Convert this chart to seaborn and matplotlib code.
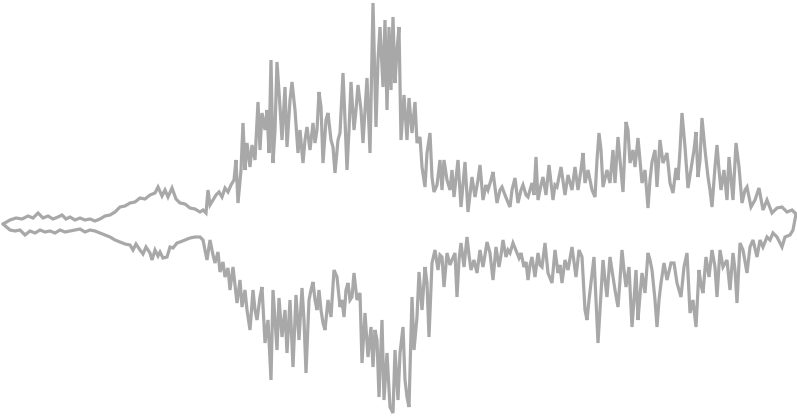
import matplotlib
matplotlib.use("Agg")
import matplotlib.pyplot as plt
import seaborn as sns
import pandas as pd

# Upper envelope: sample positions and values (value axis points downward)
top_x = [3,10,16,22,28,33,38,43,48,53,58,62,66,70,75,80,85,90,95,100,105,110,115,120,125,130,135,140,145,150,155,158,162,165,168,172,176,180,185,190,195,200,203,206,208,210,213,216,219,222,225,228,231,234,236,238,241,243,245,247,250,252,255,258,260,262,265,267,269,271,273,275,277,280,282,285,287,290,292,295,298,300,303,305,307,310,313,315,317,319,321,323,326,328,331,333,335,338,340,343,345,347,349,351,354,356,358,361,363,365,367,370,373,376,378,380,383,385,387,389,391,393,395,397,399,401,404,407,409,412,415,417,420,422,425,427,430,432,434,437,440,442,444,447,450,452,454,458,461,465,468,472,475,478,480,483,486,488,491,493,497,500,502,505,507,510,512,515,518,521,523,526,528,532,534,536,538,541,543,546,549,553,555,557,561,565,568,572,575,578,581,583,585,588,592,595,597,599,601,603,607,610,613,615,618,620,623,626,628,630,633,635,638,642,645,648,650,652,655,657,660,663,667,670,673,676,678,680,682,685,688,692,694,696,698,700,702,705,708,710,712,715,717,719,721,724,727,729,733,736,739,742,745,747,751,755,759,763,767,772,777,782,787,792,796]
top_y = [224,220,218,219,216,218,213,218,216,219,217,215,219,217,220,218,220,219,221,219,216,215,212,207,206,203,202,198,199,195,193,187,196,190,197,188,199,203,204,208,209,212,210,213,190,205,200,195,192,197,188,192,185,180,160,203,170,123,170,143,167,145,160,102,150,113,130,110,153,60,163,130,62,107,140,87,147,100,82,110,153,130,163,140,127,150,123,143,130,92,107,163,120,113,140,147,173,140,133,73,120,170,130,82,130,110,85,110,143,110,78,153,3,127,60,27,87,20,110,27,90,17,83,50,27,140,95,140,98,133,102,143,137,167,187,153,133,177,192,185,160,190,160,180,190,170,197,160,207,162,212,177,197,180,165,200,185,190,180,172,203,190,187,195,200,207,190,178,203,190,185,195,197,183,195,157,200,185,177,195,165,200,185,187,167,195,175,190,167,190,170,153,183,170,190,197,160,133,150,187,170,183,150,183,137,160,192,122,130,163,150,167,138,183,170,208,180,162,150,187,140,163,153,183,193,168,180,150,113,147,188,163,150,132,177,160,118,150,177,190,207,167,145,170,190,170,200,157,200,143,167,203,190,187,207,200,188,210,200,213,208,207,212,210,214]

# Lower envelope
bot_x = [3,10,15,20,25,30,35,40,45,50,55,60,65,70,75,80,85,90,95,100,105,110,115,120,125,130,133,136,140,143,146,150,152,155,158,160,163,167,170,173,177,180,185,190,195,200,203,207,210,213,215,218,220,223,225,228,230,233,235,237,240,242,245,247,250,253,255,257,260,262,265,268,271,273,275,277,279,282,285,287,290,293,296,299,302,304,306,309,311,313,315,317,319,321,323,325,328,331,334,337,340,342,344,346,348,350,352,354,357,360,362,365,368,371,373,375,377,379,382,384,387,390,393,395,398,400,403,405,407,409,412,414,417,419,422,425,427,429,432,435,438,440,442,444,447,450,452,455,457,459,461,464,467,469,471,474,477,480,483,485,487,490,493,496,499,501,503,506,508,510,513,517,519,521,524,526,528,530,532,535,538,540,542,545,548,552,555,558,560,562,565,568,572,576,579,582,585,587,589,591,594,596,598,600,603,605,607,610,613,615,618,620,622,624,626,629,632,634,636,638,640,642,645,648,650,652,655,657,659,661,664,667,671,674,677,679,681,684,687,690,693,696,699,701,703,706,709,712,715,717,720,723,727,730,733,735,737,740,743,747,750,753,757,760,763,767,770,773,777,780,782,785,790,793,796]
bot_y = [224,230,231,230,235,231,233,230,232,231,233,230,232,231,230,229,232,230,231,233,235,237,240,242,244,245,250,244,250,254,247,253,260,250,256,252,258,257,247,248,243,242,240,238,237,237,240,260,240,255,263,252,272,262,277,268,290,267,285,303,280,307,290,310,330,290,310,320,297,287,343,320,380,290,320,350,298,337,310,353,300,367,295,340,288,320,373,300,290,282,300,310,290,310,323,330,300,317,270,277,307,300,317,290,283,300,297,273,300,293,363,313,357,327,367,330,340,397,320,400,353,407,413,350,400,353,327,380,397,407,297,350,317,272,310,267,283,337,263,250,270,255,257,287,253,265,260,253,297,260,243,267,237,255,270,260,273,250,267,255,242,253,280,247,267,255,240,257,250,253,243,253,258,253,267,262,280,265,257,277,253,265,267,243,273,283,250,273,265,283,260,270,247,277,250,257,310,320,300,283,257,300,343,310,260,280,297,257,277,290,307,280,250,270,287,267,327,300,270,320,295,273,293,253,260,270,300,327,300,283,263,280,263,263,283,290,297,267,253,313,300,327,270,285,293,257,277,250,267,297,250,267,260,290,253,270,303,243,250,273,247,240,257,240,247,237,240,233,237,243,247,237,235,230,214]

sns.set_theme(style="white")
fig = plt.figure(figsize=(7.97, 4.18), dpi=100)
ax = fig.add_axes([0, 0, 1, 1])

line_color = "#a8a8a8"
top_df = pd.DataFrame({"x": top_x, "y": top_y})
bot_df = pd.DataFrame({"x": bot_x, "y": bot_y})
for df in (top_df, bot_df):
    sns.lineplot(data=df, x="x", y="y", sort=False, estimator=None,
                 color=line_color, linewidth=2.3, ax=ax)
for line in ax.get_lines():
    line.set_solid_joinstyle("miter")

ax.set_xlim(0, 797)
ax.set_ylim(418, 0)
ax.axis("off")
fig.savefig("out.png", dpi=100, facecolor="white")
